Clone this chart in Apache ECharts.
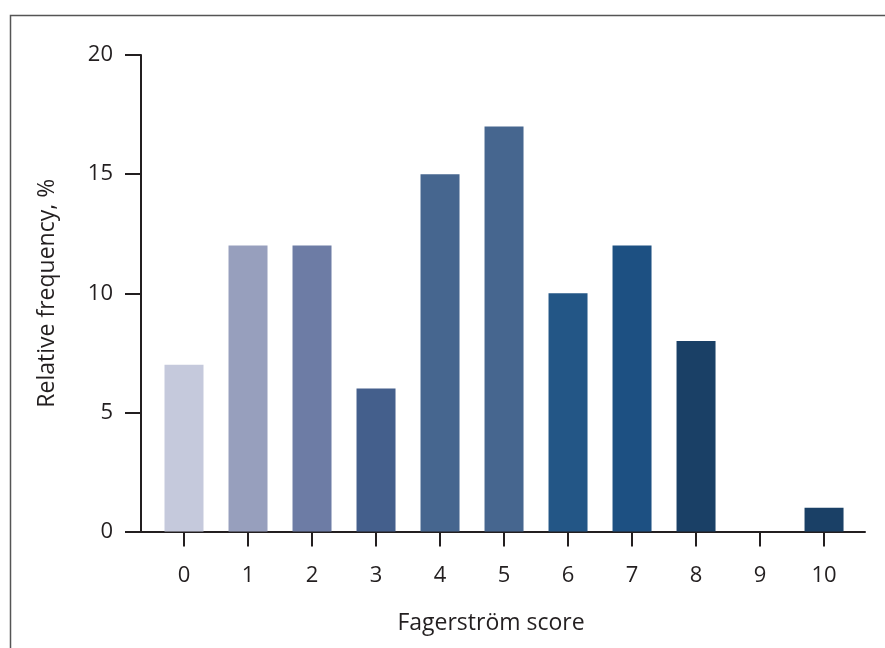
<!DOCTYPE html>
<html>
<head>
<meta charset="utf-8">
<script src="https://cdn.jsdelivr.net/npm/echarts@6/dist/echarts.min.js"></script>
<style>
html,body{margin:0;padding:0;background:#fff;}
#chart{width:885px;height:648px;}
</style>
</head>
<body>
<div id="chart"></div>
<script>
const categories = [0, 1, 2, 3, 4, 5, 6, 7, 8, 9, 10];
const frequencies = [7, 12, 12, 6, 15, 17, 10, 12, 8, 0, 1];
const barColors = ['#c5c9dc', '#979fbd', '#6d7ca5', '#445f8c', '#46668f', '#46668f', '#235686', '#1d5082', '#1a4066', '#1a4066', '#1a4066'];
const yTicks = [0, 5, 10, 15, 20];

const font = '"Open Sans", "Noto Sans", sans-serif';
const textColor = '#231f20';

const chart = echarts.init(document.getElementById('chart'), null, {renderer: 'canvas'});
chart.setOption({
  animation: false,
  backgroundColor: '#fff',
  graphic: [{
    type: 'rect',
    shape: {x: 10.5, y: 15.5, width: 900, height: 700},
    style: {fill: 'none', stroke: '#555', lineWidth: 1.5},
    silent: true, z: -1
  }],
  grid: {left: 141, right: 20, top: 55, bottom: 116.5, containLabel: false},
  xAxis: {
    type: 'value',
    min: -0.672,
    max: 10.64,
    name: 'Fagerström score',
    nameLocation: 'middle',
    nameGap: 80,
    nameTextStyle: {fontFamily: font, fontSize: 23, color: textColor, padding: [0, 24, 0, 0]},
    splitLine: {show: false},
    axisLine: {show: true, onZero: false, lineStyle: {color: '#231f20', width: 2}},
    axisTick: {show: true, inside: false, length: 15, lineStyle: {color: '#231f20', width: 2}, customValues: categories},
    axisLabel: {show: true, margin: 33, fontFamily: font, fontSize: 22, color: textColor, customValues: categories}
  },
  yAxis: {
    type: 'value',
    min: 0,
    max: 20,
    interval: 5,
    name: 'Relative frequency, %',
    nameLocation: 'middle',
    nameGap: 82,
    nameRotate: 90,
    nameTextStyle: {fontFamily: font, fontSize: 23, color: textColor},
    splitLine: {show: false},
    axisLine: {show: true, onZero: false, lineStyle: {color: '#231f20', width: 2}},
    axisTick: {show: true, inside: false, length: 16, lineStyle: {color: '#231f20', width: 2}},
    axisLabel: {margin: 28, fontFamily: font, fontSize: 22, color: textColor,
      customValues: yTicks}
  },
  series: [{
    type: 'bar',
    barWidth: 39,
    data: categories.map((c, i) => ({value: [c, frequencies[i]], itemStyle: {color: barColors[i]}}))
  }]
});
</script>
</body>
</html>
